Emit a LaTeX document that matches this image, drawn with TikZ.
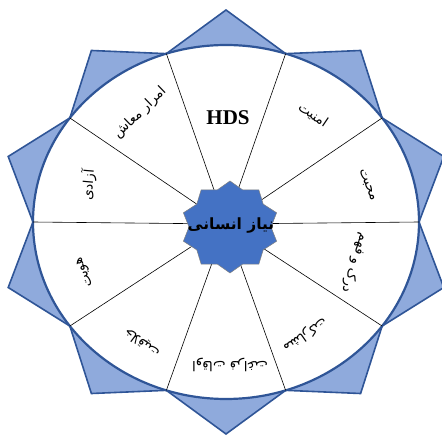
\documentclass[tikz,border=0pt]{standalone}
\usepackage{fontspec}
\setmainfont{Liberation Serif}
\newfontfamily\fa[Script=Arabic]{DejaVu Sans}
\TeXXeTstate=1
\definecolor{starfill}{HTML}{8FAADC}
\definecolor{starline}{HTML}{2F5597}
\definecolor{corefill}{HTML}{4472C4}
\definecolor{coreline}{HTML}{7F7F7F}
\tikzset{
  outerstar/.style={draw=starline, fill=starfill, line width=1.6pt, line join=miter},
  ringline/.style={draw=starline, fill=white, line width=2.2pt},
  divider/.style={draw=black, line width=0.6pt},
  corestar/.style={draw=coreline, fill=corefill, line width=0.5pt},
  label/.style={font=\fa\fontsize{13.5}{15}\selectfont, inner sep=0pt},
  hdslabel/.style={font=\bfseries\fontsize{21}{24}\selectfont, inner sep=0pt},
  coretext/.style={font=\fa\bfseries\fontsize{15.5}{17}\selectfont, inner sep=0pt}
}
\begin{document}
\begin{tikzpicture}[x=1pt,y=1pt]
\useasboundingbox (0,0) rectangle (442,439);
\begin{scope}[shift={(226,217)}]
  % outer ten-pointed star
  \path[outerstar] (90:229 and 212)
    \foreach \i in {0,...,8}{ -- ({72-36*\i}:193 and 177) -- ({54-36*\i}:229 and 212)}
    -- (108:193 and 177) -- cycle;
  % ring
  \path[ringline] (0,0) ellipse [x radius=193pt, y radius=177pt];
  % dividers
  \foreach \a in {0,36,...,324}{
    \coordinate (rim\a) at (\a:193 and 177);
    \draw[divider] (0,-2) -- (rim\a);
  }
  % centre star
  \begin{scope}[shift={(4,-5)}]
    \path[corestar] (90:47 and 46)
      \foreach \i in {0,...,8}{ -- ({72-36*\i}:41 and 39) -- ({54-36*\i}:49 and 46)}
      -- (108:41 and 39) -- cycle;
  \end{scope}
  \node[coretext] (core) at (5,-4) {\beginR نیاز انسانی\endR};
  % labels
  \node[hdslabel] (hds) at (2,104) {HDS};
  \node[label, rotate=-34] (amniyat) at (87,107) {\beginR امنیت\endR};
  \node[label, rotate=-69] (mohabbat) at (141,37) {\beginR محبت\endR};
  \node[label, rotate=-108] (dark) at (129,-41) {\beginR درک و فهم\endR};
  \node[label, rotate=-145] (mosharekat) at (79,-113) {\beginR مشارکت\endR};
  \node[label, rotate=180] (faraghat) at (4,-143) {\beginR اوقات فراغت\endR};
  \node[label, rotate=143] (khalaghiyat) at (-84,-121) {\beginR خلاقیت\endR};
  \node[label, rotate=112] (hoviyat) at (-141,-50) {\beginR هویت\endR};
  \node[label, rotate=85] (azadi) at (-138,37) {\beginR آزادی\endR};
  \node[label, rotate=44] (maash) at (-86,109) {\beginR امرار معاش\endR};
\end{scope}
\end{tikzpicture}
\end{document}
